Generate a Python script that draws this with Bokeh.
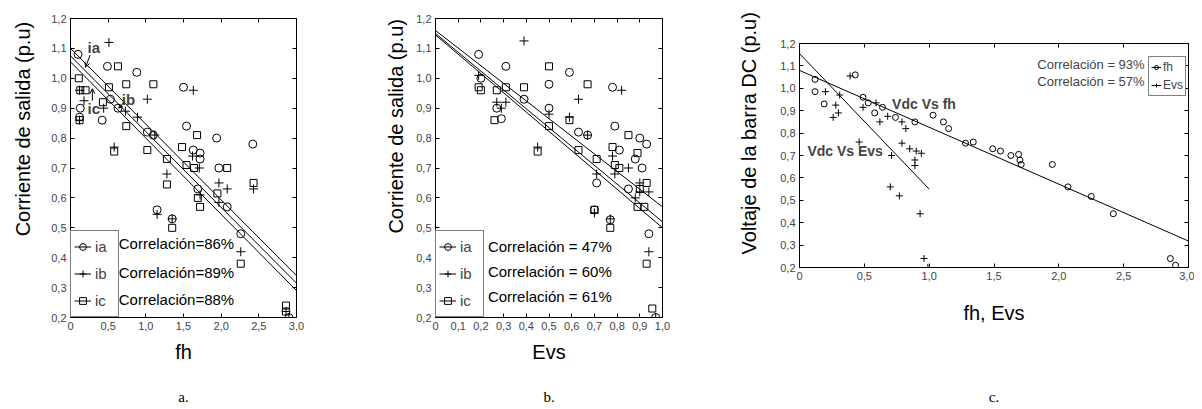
from bokeh.plotting import figure
from bokeh.models import (Range1d, LinearAxis, FixedTicker, Label, Legend,
                          LegendItem, Arrow, OpenHead)
from bokeh.layouts import row, column
from bokeh.embed import file_html
from bokeh.resources import INLINE

FONT = "Liberation Sans"
NB = "\u00a0"

# ---------------- tick labels ----------------
y_ticks = [0.2, 0.3, 0.4, 0.5, 0.6, 0.7, 0.8, 0.9, 1.0, 1.1, 1.2]
y_tick_labels = ["0,2", "0,3", "0,4", "0,5", "0,6", "0,7", "0,8", "0,9", "1,0", "1,1", "1,2"]
fh_ticks = [0, 0.5, 1.0, 1.5, 2.0, 2.5, 3.0]
fh_tick_labels = ["0", "0,5", "1,0", "1,5", "2,0", "2,5", "3,0"]
evs_ticks = [0, 0.1, 0.2, 0.3, 0.4, 0.5, 0.6, 0.7, 0.8, 0.9, 1.0]
evs_tick_labels = ["0", "0,1", "0,2", "0,3", "0,4", "0,5", "0,6", "0,7", "0,8", "0,9", "1,0"]

# ---------------- panel a: output current vs fh ----------------
a_ia_x = [0.10, 0.12, 0.13, 0.42, 0.49, 0.53, 0.63, 0.88, 1.02, 1.10, 1.15, 1.35, 1.50, 1.54,
          1.63, 1.72, 1.72, 1.94, 1.97, 2.08, 2.26, 2.42, 2.90, 1.69]
a_ia_y = [1.08, 0.87, 0.90, 0.86, 1.04, 0.93, 0.90, 1.02, 0.82, 0.81, 0.56, 0.53, 0.97, 0.84,
          0.76, 0.75, 0.73, 0.80, 0.70, 0.57, 0.48, 0.78, 0.20, 0.63]
a_ib_x = [0.51, 1.02, 1.63, 0.12, 0.18, 0.12, 0.44, 0.73, 0.89, 1.12, 0.58, 1.28, 1.62, 1.71,
          1.97, 2.08, 2.43, 1.72, 1.97, 1.35, 1.15, 2.26, 2.86, 2.90]
a_ib_y = [1.12, 0.93, 0.96, 0.96, 0.925, 0.86, 0.90, 0.89, 0.87, 0.81, 0.77, 0.68, 0.74, 0.70,
          0.65, 0.63, 0.63, 0.61, 0.585, 0.53, 0.545, 0.42, 0.22, 0.20]
a_ic_x = [0.11, 0.13, 0.20, 0.63, 0.51, 0.43, 0.74, 1.10, 0.12, 0.74, 1.02, 0.58, 1.28, 1.48,
          1.54, 1.64, 1.68, 2.08, 1.95, 1.69, 1.72, 2.43, 1.28, 1.35, 2.26, 2.86, 2.86]
a_ic_y = [1.00, 0.96, 0.96, 1.04, 0.97, 0.92, 0.98, 0.98, 0.86, 0.84, 0.76, 0.755, 0.73, 0.77,
          0.71, 0.70, 0.81, 0.70, 0.615, 0.60, 0.57, 0.65, 0.645, 0.50, 0.38, 0.24, 0.22]
a_fit_x = [0.0, 3.0]
a_fit_ia = [1.10, 0.34]
a_fit_ib = [1.075, 0.315]
a_fit_ic = [1.055, 0.29]
a_corr = ["Correlación=86%", "Correlación=89%", "Correlación=88%"]

# ---------------- panel b: output current vs Evs ----------------
b_ia_x = [0.19, 0.20, 0.31, 0.39, 0.50, 0.50, 0.59, 0.63, 0.67, 0.78, 0.79, 0.81, 0.90, 0.93,
          0.88, 0.91, 0.71, 0.85, 0.27, 0.29, 0.70, 0.77, 0.94, 0.97]
b_ia_y = [1.08, 1.00, 1.04, 0.93, 0.98, 0.90, 1.02, 0.82, 0.81, 0.97, 0.84, 0.76, 0.80, 0.78,
          0.73, 0.70, 0.65, 0.63, 0.90, 0.865, 0.56, 0.527, 0.48, 0.20]
b_ib_x = [0.19, 0.39, 0.27, 0.31, 0.29, 0.50, 0.59, 0.63, 0.45, 0.67, 0.71, 0.78, 0.79, 0.82,
          0.85, 0.90, 0.90, 0.94, 0.88, 0.77, 0.70, 0.94, 0.97]
b_ib_y = [1.01, 1.125, 0.92, 0.92, 0.90, 0.88, 0.87, 0.93, 0.77, 0.81, 0.68, 0.74, 0.68, 0.96,
          0.70, 0.65, 0.62, 0.62, 0.60, 0.53, 0.55, 0.42, 0.20]
b_ic_x = [0.19, 0.20, 0.27, 0.31, 0.39, 0.50, 0.67, 0.26, 0.50, 0.59, 0.45, 0.63, 0.71, 0.78,
          0.79, 0.81, 0.85, 0.89, 0.93, 0.90, 0.89, 0.92, 0.70, 0.77, 0.93, 0.955]
b_ic_y = [0.97, 0.96, 0.96, 0.97, 0.97, 1.04, 0.98, 0.86, 0.84, 0.86, 0.755, 0.76, 0.73, 0.77,
          0.71, 0.70, 0.81, 0.75, 0.65, 0.63, 0.57, 0.57, 0.56, 0.50, 0.38, 0.23]
b_fit_x = [0.0, 1.0]
b_fit_ia = [1.16, 0.57]
b_fit_ib = [1.15, 0.52]
b_fit_ic = [1.145, 0.50]
b_corr = ["Correlación = 47%", "Correlación = 60%", "Correlación = 61%"]

# ---------------- panel c: DC bus voltage vs fh, Evs ----------------
c_fh_x = [0.12, 0.12, 0.19, 0.43, 0.49, 0.53, 0.58, 0.64, 0.74, 0.89, 1.03, 1.11, 1.15, 1.28,
          1.34, 1.49, 1.55, 1.63, 1.69, 1.70, 1.71, 1.95, 2.07, 2.25, 2.42, 2.86, 2.90]
c_fh_y = [1.04, 0.985, 0.93, 1.06, 0.96, 0.935, 0.89, 0.915, 0.87, 0.85, 0.88, 0.85, 0.82, 0.755,
          0.76, 0.73, 0.72, 0.70, 0.705, 0.68, 0.66, 0.66, 0.56, 0.517, 0.44, 0.24, 0.21]
c_evs_x = [0.20, 0.28, 0.31, 0.30, 0.26, 0.39, 0.49, 0.59, 0.62, 0.68, 0.79, 0.82, 0.79, 0.85,
           0.90, 0.94, 0.89, 0.89, 0.46, 0.71, 0.70, 0.77, 0.93, 0.96, 0.99]
c_evs_y = [0.985, 0.925, 0.97, 0.89, 0.87, 1.055, 0.915, 0.935, 0.85, 0.875, 0.85, 0.82, 0.755,
           0.73, 0.72, 0.71, 0.68, 0.655, 0.76, 0.70, 0.56, 0.52, 0.44, 0.24, 0.20]
c_fit_fh_x = [0.0, 3.0]
c_fit_fh_y = [1.08, 0.318]
c_fit_evs_x = [0.0, 1.0]
c_fit_evs_y = [1.155, 0.55]
c_corr = ["Correlación = 93%", "Correlación = 57%"]


def make_fig(width, height, bl, br, bt, bb, xr, xticks, xlabels, xtitle, xstand,
             ytitle, yfont, ypad, ystand, cap, capstand):
    p = figure(width=width, height=height, x_range=Range1d(*xr), y_range=Range1d(0.2, 1.2),
               output_backend="svg", toolbar_location=None, title=None,
               min_border_left=bl, min_border_right=br, min_border_top=bt, min_border_bottom=bb)
    p.grid.visible = False
    p.outline_line_color = "black"
    p.background_fill_color = "white"
    p.border_fill_color = "white"
    for ax, ticks, labs in ((p.xaxis[0], xticks, xlabels), (p.yaxis[0], y_ticks, y_tick_labels)):
        ax.ticker = FixedTicker(ticks=ticks)
        ax.major_label_overrides = dict(zip(ticks, labs))
        ax.major_tick_in = 4
        ax.major_tick_out = 0
        ax.minor_tick_line_color = None
        ax.axis_line_color = "black"
        ax.major_tick_line_color = "black"
        ax.major_label_text_font = FONT
        ax.major_label_text_font_size = "11px"
        ax.major_label_text_color = "#444444"
        ax.major_label_standoff = 4
        ax.axis_label_text_font = FONT
        ax.axis_label_text_font_style = "normal"
        ax.axis_label_text_color = "black"
    p.xaxis[0].axis_label = xtitle
    p.xaxis[0].axis_label_text_font_size = "20px"
    p.xaxis[0].axis_label_standoff = xstand
    p.yaxis[0].axis_label = NB * ypad + ytitle
    p.yaxis[0].axis_label_text_font_size = yfont
    p.yaxis[0].axis_label_standoff = ystand
    # inward ticks on the top and right edges (minor ticks only, no labels)
    top = LinearAxis(ticker=FixedTicker(ticks=[], minor_ticks=xticks), minor_tick_in=4,
                     minor_tick_out=0, major_tick_line_color=None, axis_line_color="black",
                     minor_tick_line_color="black")
    right = LinearAxis(ticker=FixedTicker(ticks=[], minor_ticks=y_ticks), minor_tick_in=4,
                       minor_tick_out=0, major_tick_line_color=None, axis_line_color="black",
                       minor_tick_line_color="black")
    p.add_layout(top, "above")
    p.add_layout(right, "right")
    # caption below the panel
    capax = LinearAxis(ticker=FixedTicker(ticks=[]), axis_line_color=None,
                       major_tick_line_color=None, minor_tick_line_color=None,
                       axis_label=cap, axis_label_standoff=capstand,
                       axis_label_text_font="Liberation Serif", axis_label_text_font_size="15px",
                       axis_label_text_font_style="normal", axis_label_text_color="black")
    p.add_layout(capax, "below")
    return p


def three_series(p, xs, ys, fx, fits, names, corr, corr_x, corr_ys):
    markers = [("circle", 8), ("cross", 9), ("square", 7)]
    items = []
    for (mk, sz), x, y, fy, nm in zip(markers, xs, ys, fits, names):
        s = p.scatter(x, y, marker=mk, size=sz, fill_color=None, line_color="black", line_width=1)
        l = p.line(fx, fy, line_color="black", line_width=1)
        items.append(LegendItem(label=nm, renderers=[s, l]))
    leg = Legend(items=items, location="bottom_left", margin=0, padding=3, spacing=2,
                 glyph_height=25, glyph_width=17, label_standoff=4, label_height=20,
                 label_text_font=FONT, label_text_font_size="15px",
                 border_line_color="black", border_line_width=1, background_fill_alpha=1)
    p.add_layout(leg)
    for txt, cy in zip(corr, corr_ys):
        p.add_layout(Label(x=corr_x, y=cy, text=txt, text_align="left", text_baseline="middle",
                           text_font=FONT, text_font_size="15px", text_color="black"))


H = 407

# ---------------- figure a ----------------
pa = make_fig(370, H, 70, 74, 17, H - 17 - 301, (0, 3), fh_ticks, fh_tick_labels, "fh", 8,
              "Corriente de salida (p.u)", "20px", 14, 14, "a.", 23)
three_series(pa, [a_ia_x, a_ib_x, a_ic_x], [a_ia_y, a_ib_y, a_ic_y], a_fit_x,
             [a_fit_ia, a_fit_ib, a_fit_ic], ["ia", "ib", "ic"], a_corr, 0.64, [0.449, 0.35, 0.26])
for txt, x, y in (("ia", 0.31, 1.104), ("ib", 0.77, 0.93), ("ic", 0.31, 0.898)):
    pa.add_layout(Label(x=x, y=y, text=txt, text_align="center", text_baseline="middle",
                        text_font=FONT, text_font_size="15px", text_font_style="bold"))
pa.add_layout(Arrow(end=OpenHead(size=5, line_width=1), x_start=0.26, y_start=1.078,
                    x_end=0.2, y_end=1.037, line_width=1))
pa.add_layout(Arrow(end=OpenHead(size=4, line_width=1), x_start=0.71, y_start=0.92,
                    x_end=0.64, y_end=0.90, line_width=1))
pa.add_layout(Arrow(end=OpenHead(size=5, line_width=1), x_start=0.29, y_start=0.925,
                    x_end=0.29, y_end=0.965, line_width=1))

# ---------------- figure b ----------------
pb = make_fig(365, H, 65, 73, 18, H - 18 - 300, (0, 1), evs_ticks, evs_tick_labels, "Evs", 8,
              "Corriente de salida (p.u)", "20px", 15, 6, "b.", 23)
three_series(pb, [b_ia_x, b_ib_x, b_ic_x], [b_ia_y, b_ib_y, b_ic_y], b_fit_x,
             [b_fit_ia, b_fit_ib, b_fit_ic], ["ia", "ib", "ic"], b_corr, 0.231, [0.437, 0.353, 0.27])

# ---------------- figure c ----------------
pc = make_fig(459, H, 62, 6, 43, H - 43 - 226, (0, 3), fh_ticks, fh_tick_labels, "fh, Evs", 19,
              "Voltaje de la barra DC (p.u)", "20px", 8, 17, "c.", 62)
s_fh = pc.scatter(c_fh_x, c_fh_y, marker="circle", size=6, fill_color=None, line_color="black")
l_fh = pc.line(c_fit_fh_x, c_fit_fh_y, line_color="black", line_width=1)
s_ev = pc.scatter(c_evs_x, c_evs_y, marker="cross", size=7, line_color="black")
l_ev = pc.line(c_fit_evs_x, c_fit_evs_y, line_color="black", line_width=1)
legc = Legend(items=[LegendItem(label="fh", renderers=[s_fh, l_fh]),
                     LegendItem(label="Evs", renderers=[s_ev, l_ev])],
              location=(349, 171), margin=0, padding=2, spacing=2, glyph_height=16,
              glyph_width=10, label_standoff=2, label_height=16, label_text_font=FONT,
              label_text_font_size="12px", border_line_color="black", border_line_width=1)
pc.add_layout(legc)
for txt, cy in zip(c_corr, [1.107, 1.032]):
    pc.add_layout(Label(x=1.834, y=cy, text=txt, text_align="left", text_baseline="middle",
                        text_font=FONT, text_font_size="13px"))
pc.add_layout(Label(x=0.714, y=0.93, text="Vdc Vs fh", text_align="left", text_baseline="middle",
                    text_font=FONT, text_font_size="14px", text_font_style="bold"))
pc.add_layout(Label(x=0.061, y=0.718, text="Vdc Vs Evs", text_align="left", text_baseline="middle",
                    text_font=FONT, text_font_size="14px", text_font_style="bold"))

layout = row(pa, pb, column(pc))
open("out.html", "w").write(file_html(layout, INLINE))
